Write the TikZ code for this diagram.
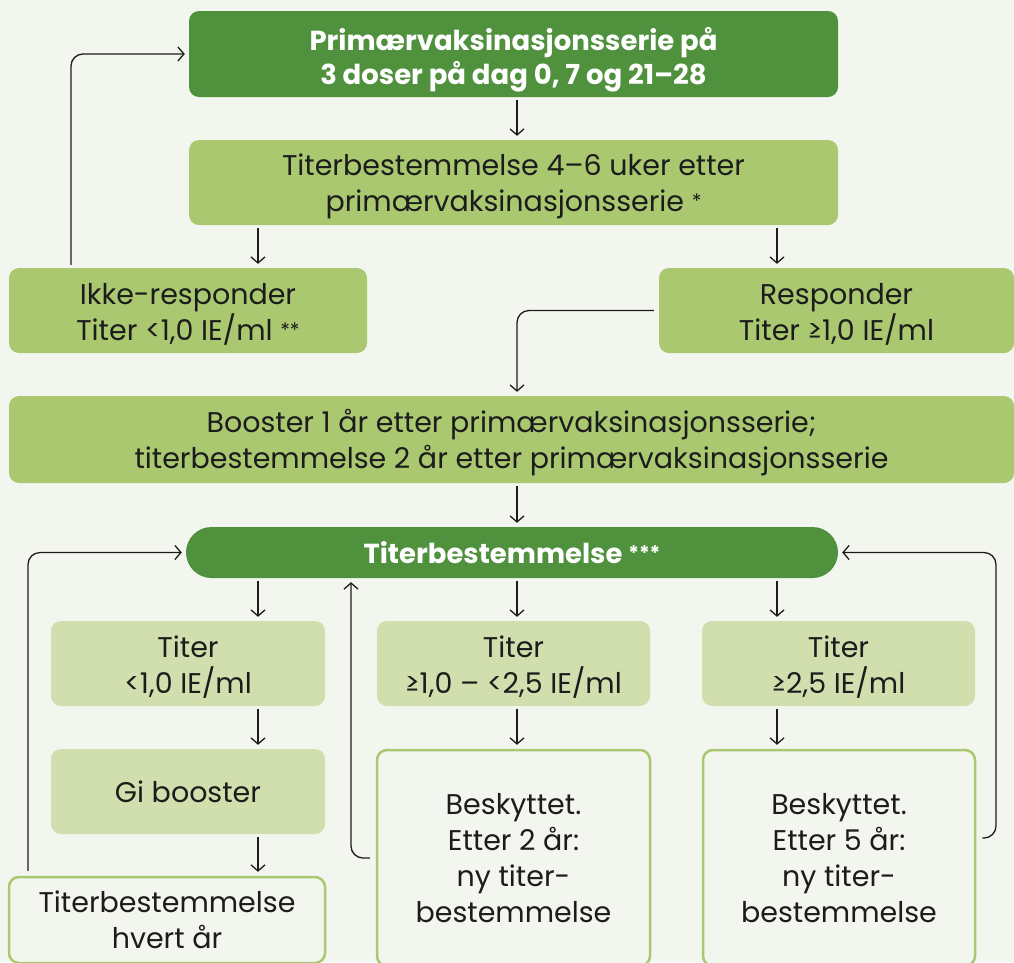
\documentclass[tikz,border=0pt]{standalone}
\usepackage{fontspec}
\setmainfont{Poppins}
\usetikzlibrary{arrows.meta}
\definecolor{bg}{HTML}{F3F6EE}
\definecolor{dkg}{HTML}{4F913D}
\definecolor{ltg}{HTML}{A9C86F}
\definecolor{pale}{HTML}{D1DFAE}
\definecolor{ink}{HTML}{1C1C1C}
\newcommand\upst{\rule{0pt}{29pt}}
\newcommand\smallast[1]{\raisebox{3pt}{\fontsize{20}{20}\selectfont #1}}
\begin{document}
\begin{tikzpicture}[x=1pt,y=-1pt,
 base/.style={align=center, text=ink, inner sep=0pt, font=\fontsize{28.5}{36}\selectfont, rounded corners=10pt},
 dark/.style={base, fill=dkg, text=white, font=\bfseries\fontsize{27.5}{34}\selectfont},
 light/.style={base, fill=ltg},
 palebox/.style={base, fill=pale},
 outl/.style={base, draw=ltg, line width=2.5pt, fill=bg},
 arr/.style={-{Straight Barb[length=6pt,width=14pt]}, line width=1.3pt, draw=ink, shorten <=3pt, shorten >=4pt},
 lp/.style={arr, rounded corners=12pt}]
\clip (0,0) rectangle (1014,962);
\fill[bg] (0,0) rectangle (1014,962);
% nodes
\node[dark, minimum width=649pt, minimum height=86pt] (b1) at (513.5,54) {\rule{0pt}{34pt}Primærvaksinasjonsserie på\\3 doser på dag 0, 7 og 21–28};
\node[light, minimum width=649pt, minimum height=85pt] (b2) at (513.5,182.5) {\upst Titerbestemmelse 4–6 uker etter\\primærvaksinasjonsserie \smallast{*}};
\node[light, minimum width=358pt, minimum height=85pt] (b3) at (188,310.5) {\upst Ikke-responder\\Titer <1,0 IE/ml \smallast{**}};
\node[light, minimum width=355pt, minimum height=85pt] (b4) at (836.5,310.5) {\upst Responder\\Titer ≥1,0 IE/ml};
\node[light, minimum width=1005pt, minimum height=87pt] (b5) at (511.5,439.5) {\upst Booster 1 år etter primærvaksinasjonsserie;\\titerbestemmelse 2 år etter primærvaksinasjonsserie};
\node[dark, minimum width=652pt, minimum height=51pt, rounded corners=25.5pt] (b6) at (512,552.5) {Titerbestemmelse \smallast{***}};
\node[palebox, minimum width=274pt, minimum height=85pt] (t1) at (188,663.5) {\upst Titer\\<1,0 IE/ml};
\node[palebox, minimum width=273pt, minimum height=85pt] (t2) at (513.5,663.5) {\upst Titer\\≥1,0 – <2,5 IE/ml};
\node[palebox, minimum width=273pt, minimum height=85pt] (t3) at (838.5,663.5) {\upst Titer\\≥2,5 IE/ml};
\node[palebox, minimum width=274pt, minimum height=85pt] (gi) at (188,791.5) {Gi booster};
\node[outl, minimum width=273pt, minimum height=216pt] (o2) at (513.5,858) {Beskyttet.\\Etter 2 år:\\ny titer-\\bestemmelse};
\node[outl, minimum width=272pt, minimum height=216pt] (o3) at (839,858) {Beskyttet.\\Etter 5 år:\\ny titer-\\bestemmelse};
\node[outl, minimum width=316pt, minimum height=86pt] (hv) at (167,920) {Titerbestemmelse\\hvert år};
% reference columns
\coordinate (cl) at (258,0);
\coordinate (cm) at (517,0);
\coordinate (cr) at (777,0);
\coordinate (lx) at (71,0);
\coordinate (llx) at (28,0);
\coordinate (mx) at (351,0);
\coordinate (rr) at (996,838);
% straight arrows
\draw[arr] (b1.south -| cm) -- (b2.north -| cm);
\draw[arr] (b2.south -| cl) -- (b3.north -| cl);
\draw[arr] (b2.south -| cr) -- (b4.north -| cr);
\draw[arr] (b5.south -| cm) -- (b6.north -| cm);
\draw[arr] (b6.south -| cl) -- (t1.north -| cl);
\draw[arr] (b6.south -| cm) -- (t2.north -| cm);
\draw[arr] (b6.south -| cr) -- (t3.north -| cr);
\draw[arr] (t1.south -| cl) -- (gi.north -| cl);
\draw[arr] (t2.south -| cm) -- (o2.north -| cm);
\draw[arr] (t3.south -| cr) -- (o3.north -| cr);
\draw[arr] (gi.south -| cl) -- (hv.north -| cl);
% loops
\draw[lp] (b3.north -| lx) |- (b1.west);
\draw[lp, shorten <=5pt] (b4.west) -| (b5.north -| cm);
\draw[lp, shorten <=5pt] (hv.north -| llx) |- (b6.west);
\draw[lp, shorten <=6pt] (o2.west) -| (b6.south -| mx);
\draw[lp, shorten <=6pt] (o3.east |- rr) -| (rr |- b6.east) -- (b6.east);
\end{tikzpicture}
\end{document}
